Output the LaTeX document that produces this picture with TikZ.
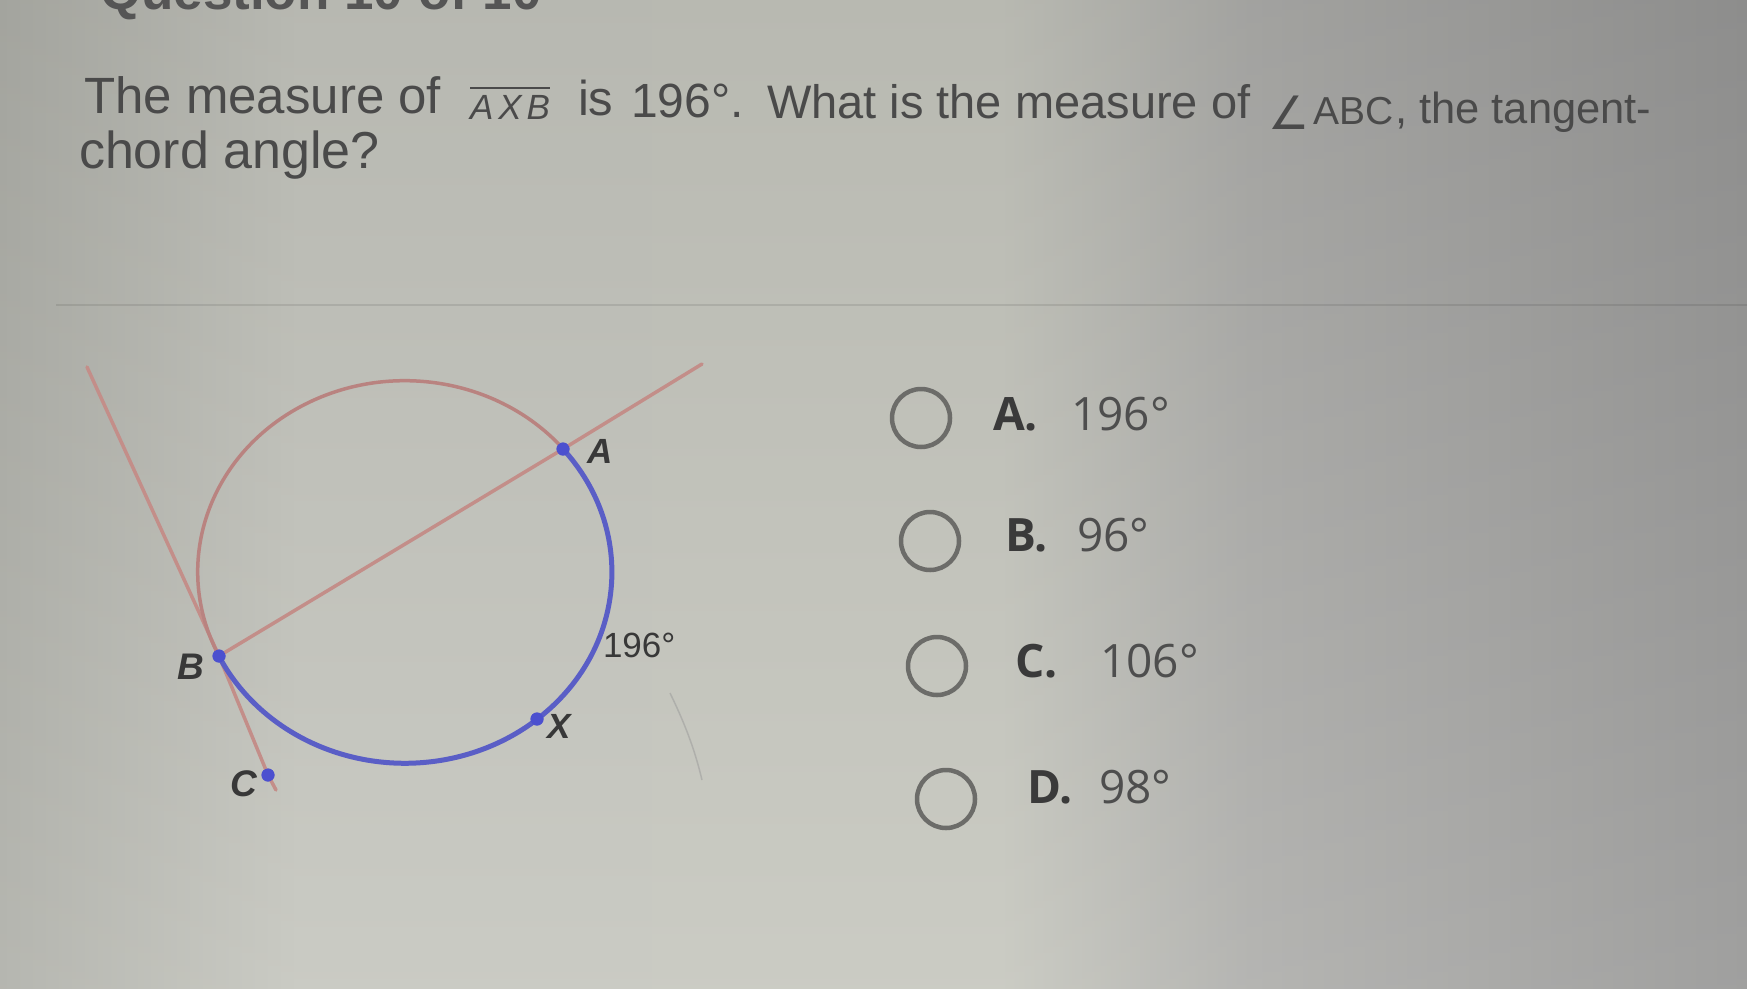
\documentclass[tikz,border=0pt]{standalone}
\usepackage{fontspec}
\setmainfont{Liberation Sans}
\newfontfamily\afont{Open Sans}
\newfontfamily\symfont{DejaVu Sans}
\newcommand\fsz[1]{\fontsize{#1}{#1}\selectfont}
\definecolor{bgA}{HTML}{ACADA6}
\definecolor{bgB}{HTML}{C3C4BC}
\definecolor{bgC}{HTML}{C4C5BC}
\definecolor{bgD}{HTML}{ABABA8}
\definecolor{bgE}{HTML}{939392}
\definecolor{qtext}{HTML}{4A4A4A}
\definecolor{hdr}{HTML}{555555}
\definecolor{redline}{HTML}{C38E89}
\definecolor{redarc}{HTML}{B98380}
\definecolor{bluearc}{HTML}{5A5EC6}
\definecolor{bluedot}{HTML}{4C50CF}
\definecolor{lbl}{HTML}{383838}
\definecolor{radio}{HTML}{6C6C69}
\definecolor{ansl}{HTML}{3A3A3A}
\definecolor{ansv}{HTML}{4E4E4E}
\pgfdeclarehorizontalshading{bgh}{100bp}{color(0bp)=(bgA); color(25bp)=(bgA); color(33.6bp)=(bgB); color(53.6bp)=(bgC); color(60.8bp)=(bgD); color(75bp)=(bgE); color(100bp)=(bgE)}
\begin{document}
\begin{tikzpicture}[x=1pt,y=-1pt,
  txt/.style={inner sep=0pt, outer sep=0pt, anchor=base west, text=qtext},
  lab/.style={inner sep=0pt, outer sep=0pt, text=lbl, font=\bfseries\itshape\fsz{37}},
  dot/.style={circle, fill=bluedot, inner sep=0pt, minimum size=13pt},
  redln/.style={draw=redline, line width=3.5pt, line cap=round},
  radiobtn/.style={circle, draw=radio, line width=4.5pt, minimum size=58pt, inner sep=0pt},
  anslet/.style={inner sep=0pt, anchor=base west, text=ansl, font=\afont\bfseries\fsz{46}},
  ansval/.style={inner sep=0pt, anchor=base west, text=ansv, font=\afont\fsz{46}}]
\useasboundingbox (0,0) rectangle (1747,988);
\clip (0,0) rectangle (1747,988);
\shade[shading=bgh] (0,0) rectangle (1747,988);
\shade[top color=black!60, bottom color=white, opacity=0.12] (0,0) rectangle (1747,988);
\draw[black, opacity=0.09, line width=2pt] (56,305) -- (1747,305);

% header (cut off at the top edge, as in the photo)
\node[txt, text=hdr, font=\bfseries\fsz{53}] (hd) at (100,9) {Question 10 of 10};

% question text
\node[txt, font=\fsz{51}] (q1) at (84,113) {The measure of};
\node[txt, font=\itshape\fsz{35}] (q2) at (470,119) {A\kern5pt X\kern5pt B};
\draw[qtext, line width=2.5pt] (q2.west |- 0,88) -- (q2.east |- 0,88);
\node[txt, font=\fsz{49}] (q3) at (578,115) {is};
\node[txt, font=\fsz{48}] (q4) at (631,117) {196°.};
\node[txt, font=\fsz{47}] (q5) at (767,118) {What is the measure of};
\node[txt, font=\symfont\fsz{46}] (q6) at (1268,129) {∠};
\node[txt, font=\fsz{39}] (q7) at (1313,124) {ABC};
\node[txt, font=\fsz{43.5}] (q8) at (1395,123) {, the tangent-};
\node[txt, font=\fsz{52}] (q9) at (79,168) {chord angle?};

% diagram
\coordinate (O) at (405,572);
\coordinate (T1) at (87,367);
\coordinate (T2) at (276,790);
\coordinate (E) at (702,364);
\node[dot] (A) at (563,449) {};
\node[dot] (B) at (219,656) {};
\node[dot] (X) at (537,719) {};
\node[dot] (C) at (268,775) {};
\draw[redln] (T1) -- (B.center) -- (C.center) -- (T2);
\draw[redln] (B.center) -- (A.center) -- (E);
\draw[redarc, line width=3.5pt] (B.center) arc[start angle=153.8, end angle=319.8, x radius=207, y radius=191];
\draw[bluearc, line width=5pt] (A.center) arc[start angle=-40.2, end angle=153.8, x radius=207, y radius=191];
\node[dot] at (A) {};
\node[dot] at (B) {};
\node[dot] at (X) {};
\node[dot] at (C) {};
\node[lab, font=\bfseries\itshape\fsz{35}] (lA) at (600,451) {A};
\node[lab] (lB) at (191,667) {B};
\node[lab, font=\bfseries\itshape\fsz{35}] (lX) at (559,726) {X};
\node[lab] (lC) at (244,784) {C};
\node[txt, text=lbl, font=\fsz{35}] (deg) at (603,657) {196°};
\draw[black!40, opacity=0.5, line width=1.5pt] (670,693) .. controls (688,730) and (696,755) .. (702,780);

% answers
\node[radiobtn] (rA) at (921,418) {};
\node[radiobtn] (rB) at (930,541) {};
\node[radiobtn] (rC) at (937,666) {};
\node[radiobtn] (rD) at (946,799) {};
\node[anslet] (aA) at (993,430) {A.};
\node[ansval] (vA) at (1071,430) {196°};
\node[anslet] (aB) at (1005,551) {B.};
\node[ansval] (vB) at (1077,551) {96°};
\node[anslet] (aC) at (1015,677) {C.};
\node[ansval] (vC) at (1100,677) {106°};
\node[anslet] (aD) at (1027,803) {D.};
\node[ansval] (vD) at (1099,803) {98°};
\end{tikzpicture}
\end{document}
